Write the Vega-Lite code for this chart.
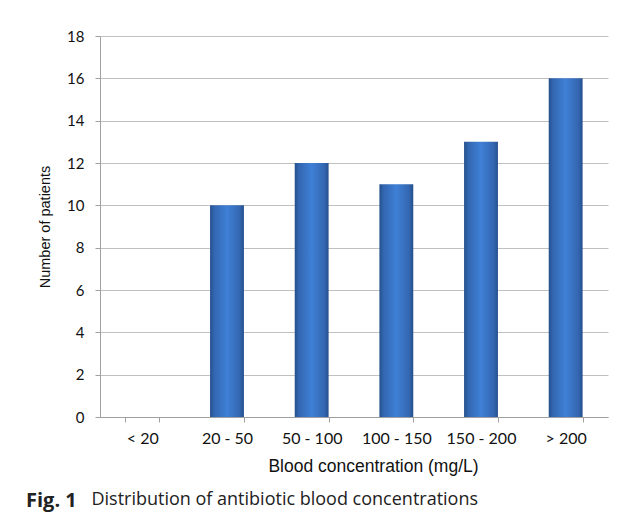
{
  "$schema": "https://vega.github.io/schema/vega-lite/v6.json",
  "autosize": "none",
  "width": 508,
  "height": 381,
  "padding": {"left": 100, "top": 36, "right": 19, "bottom": 99},
  "background": "white",
  "data": {"values": [
    {"range": "< 20", "patients": 0},
    {"range": "20 - 50", "patients": 10},
    {"range": "50 - 100", "patients": 12},
    {"range": "100 - 150", "patients": 11},
    {"range": "150 - 200", "patients": 13},
    {"range": "> 200", "patients": 16}
  ]},
  "title": {
    "text": "Fig. 1",
    "subtitle": "\u200b\u00a0\u00a0\u00a0\u00a0\u00a0\u00a0\u00a0\u00a0\u00a0\u00a0\u00a0\u00a0\u00a0\u00a0Distribution of antibiotic blood concentrations",
    "orient": "bottom",
    "anchor": "start",
    "frame": "group",
    "dx": -74,
    "offset": 16,
    "font": "Open Sans",
    "fontSize": 20,
    "fontWeight": "bold",
    "color": "#222222",
    "subtitleFont": "Open Sans",
    "subtitleFontSize": 18,
    "subtitleFontWeight": "normal",
    "subtitleColor": "#222222",
    "subtitlePadding": -20
  },
  "mark": {
    "type": "bar",
    "color": {
      "gradient": "linear",
      "x1": 0, "y1": 0, "x2": 1, "y2": 0,
      "stops": [
        {"offset": 0, "color": "#244f8c"},
        {"offset": 0.12, "color": "#3366b0"},
        {"offset": 0.5, "color": "#3f80d6"},
        {"offset": 0.88, "color": "#3366b0"},
        {"offset": 1, "color": "#244f8c"}
      ]
    }
  },
  "encoding": {
    "x": {
      "field": "range",
      "type": "nominal",
      "sort": null,
      "scale": {"paddingInner": 0.6, "paddingOuter": 0.3},
      "axis": {
        "title": "Blood concentration (mg/L)",
        "titleFont": "Liberation Sans",
        "titleFontSize": 17.5,
        "titleFontWeight": "normal",
        "titleColor": "#111111",
        "titlePadding": 11,
        "titleX": 273,
        "titleAlign": "center",
        "labelAngle": 0,
        "labelFont": "Lato",
        "labelFontSize": 16,
        "labelColor": "#111111",
        "labelPadding": 8,
        "domainColor": "#a0a0a0",
        "tickColor": "#a0a0a0",
        "tickSize": 5,
        "tickBand": "extent",
        "grid": false
      }
    },
    "y": {
      "field": "patients",
      "type": "quantitative",
      "scale": {"domain": [0, 18], "nice": false},
      "axis": {
        "title": "Number of patients",
        "titleFont": "Liberation Sans",
        "titleFontSize": 14.5,
        "titleFontWeight": "normal",
        "titleColor": "#111111",
        "titlePadding": 14,
        "values": [0, 2, 4, 6, 8, 10, 12, 14, 16, 18],
        "labelFont": "Lato",
        "labelFontSize": 15,
        "labelColor": "#111111",
        "labelPadding": 11,
        "domainColor": "#a0a0a0",
        "tickColor": "#a0a0a0",
        "tickSize": 5,
        "grid": true,
        "gridColor": "#c0c0c0",
        "gridWidth": 1.2
      }
    }
  },
  "config": {
    "view": {"stroke": null}
  }
}
